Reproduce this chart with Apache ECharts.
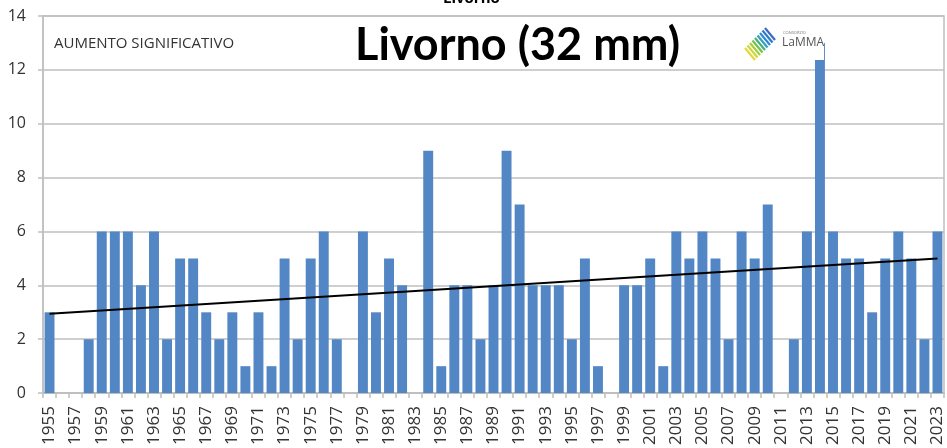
<!DOCTYPE html>
<html>
<head>
<meta charset="utf-8">
<script src="https://cdn.jsdelivr.net/npm/echarts@6/dist/echarts.min.js"></script>
<style>
  html, body { margin: 0; padding: 0; background: #fff; }
  #chart { width: 947px; height: 448px; }
</style>
</head>
<body>
<div id="chart"></div>
<script>
  // anni 1955-2023
  var years = [];
  for (var y = 1955; y <= 2023; y++) { years.push(String(y)); }

  // numero di giorni sopra soglia (32 mm)
  var days = [
    3, 0, 0, 2, 6, 6, 6, 4, 6, 2,
    5, 5, 3, 2, 3, 1, 3, 1, 5, 2,
    5, 6, 2, 0, 6, 3, 5, 4, 0, 9,
    1, 4, 4, 2, 4, 9, 7, 4, 4, 4,
    2, 5, 1, 0, 4, 4, 5, 1, 6, 5,
    6, 5, 2, 6, 5, 7, 0, 2, 6, 13,
    6, 5, 5, 3, 5, 6, 5, 2, 6
  ];

  // linea di tendenza (valori letti agli estremi)
  var trendStart = 2.95;
  var trendEnd = 5.0;

  var yTicks = [0, 2, 4, 6, 8, 10, 12, 14];

  var myChart = echarts.init(document.getElementById('chart'));

  // logo LaMMA: strisce diagonali
  var stripeColors = ['#e6d63a', '#cdd63a', '#a6cf3c', '#72c24a', '#45b07e', '#34a0c0', '#2b8bd4', '#2c78cc', '#3a6cc0'];
  var stripes = stripeColors.map(function (c, i) {
    var off = i * 2.5;
    return {
      type: 'line',
      shape: { x1: 745 + off, y1: 48 - off, x2: 755 + off, y2: 60 - off },
      style: { stroke: c, lineWidth: 2.2 },
      z: 101
    };
  });

  var option = {
    animation: false,
    backgroundColor: '#fff',
    grid: {
      left: 43,
      right: 3,
      top: 16,
      bottom: 53,
      show: true,
      borderColor: '#bfbfbf',
      borderWidth: 1.5
    },
    xAxis: {
      type: 'category',
      data: years,
      boundaryGap: true,
      axisLine: { lineStyle: { color: '#bfbfbf', width: 1.5 } },
      axisTick: { show: true, interval: 0, length: 5, lineStyle: { color: '#bfbfbf', width: 1.5 } },
      axisLabel: {
        interval: 1,
        rotate: 90,
        margin: 13,
        fontSize: 17,
        fontFamily: 'Open Sans',
        color: '#333'
      }
    },
    yAxis: {
      type: 'value',
      min: yTicks[0],
      max: yTicks[yTicks.length - 1],
      interval: 2,
      axisLine: { show: true, lineStyle: { color: '#bfbfbf', width: 1.5 } },
      axisTick: { show: true, length: 5, lineStyle: { color: '#bfbfbf', width: 1.5 } },
      splitLine: { lineStyle: { color: '#bfbfbf', width: 1.5 } },
      axisLabel: {
        margin: 17,
        fontSize: 16,
        fontFamily: 'Open Sans',
        color: '#333'
      }
    },
    series: [
      {
        type: 'bar',
        data: days,
        barCategoryGap: '24%',
        itemStyle: { color: '#5286c4' },
        z: 2,
        markLine: {
          silent: true,
          symbol: ['none', 'none'],
          label: { show: false },
          lineStyle: { color: '#000', width: 2, type: 'solid' },
          data: [[
            { coord: [years[0], trendStart] },
            { coord: [years[years.length - 1], trendEnd] }
          ]]
        }
      }
    ],
    graphic: {
      z: 50,
      elements: [
        {
          type: 'text',
          left: 443,
          top: -9,
          style: { text: 'Livorno', fontSize: 15, fontWeight: 'bold', fontFamily: 'Open Sans', fill: '#000' }
        },
        {
          type: 'text',
          left: 54,
          top: 36,
          style: { text: 'AUMENTO SIGNIFICATIVO', fontSize: 15, fontFamily: 'Open Sans', fill: '#333' }
        },
        {
          type: 'text',
          left: 355,
          top: 23,
          style: { text: 'Livorno (32 mm)', fontSize: 45, fontWeight: 'bold', fontFamily: 'Lato', fill: '#000' }
        },
        {
          type: 'rect',
          shape: { x: 738, y: 22, width: 86, height: 38 },
          style: { fill: '#fff' },
          z: 100
        },
        {
          type: 'text',
          left: 783,
          top: 31,
          style: { text: 'CONSORZIO', fontSize: 4, fontFamily: 'Open Sans', fill: '#777' },
          z: 101
        },
        {
          type: 'text',
          left: 782,
          top: 37,
          style: { text: 'LaMMA', fontSize: 12, fontFamily: 'Open Sans', fill: '#555' },
          z: 101
        }
      ].concat(stripes)
    }
  };

  myChart.setOption(option);
  window.onresize = myChart.resize;
</script>
</body>
</html>
